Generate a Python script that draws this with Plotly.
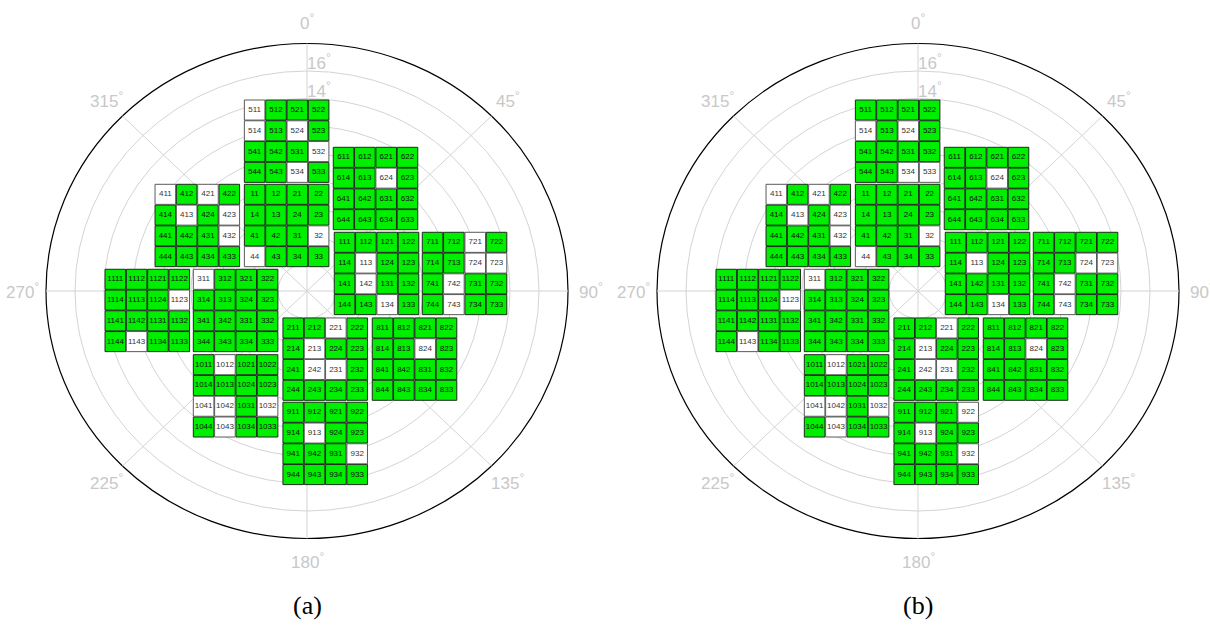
import math
import plotly.graph_objects as go

# ---------------- data ----------------
# block label prefixes and top-left corner of each block (degrees, x right / y up)
block_ids = ["", "1", "2", "3", "4", "5", "6", "7", "8", "9", "10", "11"]
block_x = [-4.32, 1.88, -1.66, -7.84, -10.48, -4.32, 1.81, 7.95, 4.50, -1.66, -7.84, -13.93]
block_y = [7.76, 4.27, -1.96, 1.58, 7.76, 13.89, 10.45, 4.27, -1.96, -8.09, -4.63, 1.58]

# label suffix of each cell inside a block (rows top->bottom, cols left->right)
cell_suffix = [["11", "12", "21", "22"],
               ["14", "13", "24", "23"],
               ["41", "42", "31", "32"],
               ["44", "43", "34", "33"]]

# cells drawn white (all others green)
white_a = ["32", "44", "113", "142", "134", "221", "213", "242", "231", "311",
           "411", "421", "413", "423", "432", "511", "514", "524", "532", "534",
           "624", "721", "724", "723", "742", "743", "824", "913", "932",
           "1012", "1041", "1042", "1032", "1043", "1123", "1143"]
white_b = ["32", "44", "113", "134", "221", "213", "242", "231", "311",
           "411", "421", "413", "423", "432", "514", "524", "534", "533",
           "624", "724", "723", "742", "743", "824", "922", "913", "932",
           "1012", "1041", "1042", "1032", "1043", "1123", "1143"]

panel_names = ["(a)", "(b)"]
radial_ticks = [2, 4, 6, 8, 10, 12, 14, 16]
radial_labels = [14, 16]          # the other radial labels sit under the cells
angle_ticks = [0, 45, 90, 135, 180, 225, 270, 315]
r_max = 18

# ---------------- layout constants ----------------
W, H = 1210, 626
SX, SY = 14.5, 13.75          # px per degree
CY = 291
CXS = [307, 918]
PITCH_X, PITCH_Y = 1.47, 1.51
GAP = 0.05
GREEN = "#00ee00"
TICK_GRAY = "#c8c8c8"

fig = go.Figure()
shapes = []
annotations = []

for p, (white, name) in enumerate(zip([white_a, white_b], panel_names)):
    xa = "x" if p == 0 else "x2"
    ya = "y" if p == 0 else "y2"

    # grid circles
    for r in radial_ticks:
        shapes.append(dict(type="circle", xref=xa, yref=ya, x0=-r, x1=r, y0=-r, y1=r,
                           line=dict(color="#d4d4d4", width=1), layer="below"))
    shapes.append(dict(type="circle", xref=xa, yref=ya, x0=-r_max, x1=r_max, y0=-r_max, y1=r_max,
                       line=dict(color="#000000", width=1.2), layer="below"))
    # spokes
    for a in angle_ticks:
        t = math.radians(a)
        shapes.append(dict(type="line", xref=xa, yref=ya, x0=0, y0=0,
                           x1=r_max * math.sin(t), y1=r_max * math.cos(t),
                           line=dict(color="#d4d4d4", width=1), layer="below"))

    # radial tick labels
    fig.add_trace(go.Scatter(
        x=[0.0] * len(radial_labels), y=[r + 0.42 for r in radial_labels],
        text=[f"{r}<sup>°</sup>" for r in radial_labels], mode="text",
        textposition="middle right",
        textfont=dict(family="Liberation Sans, Arial", size=17, color=TICK_GRAY),
        xaxis=xa, yaxis=ya, showlegend=False, hoverinfo="skip", cliponaxis=False))

    # cells
    gx, gy, wx, wy = [], [], [], []
    tx, ty, tt, tc = [], [], [], []
    for bid, bx, by in zip(block_ids, block_x, block_y):
        for row in range(4):
            for col in range(4):
                lab = bid + cell_suffix[row][col]
                x0 = bx + col * PITCH_X
                x1 = x0 + PITCH_X - GAP
                y0 = by - row * PITCH_Y
                y1 = y0 - PITCH_Y + GAP
                poly_x = [x0, x1, x1, x0, x0, None]
                poly_y = [y0, y0, y1, y1, y0, None]
                if lab in white:
                    wx += poly_x; wy += poly_y
                    tc.append("#333333")
                else:
                    gx += poly_x; gy += poly_y
                    tc.append("#111111")
                tx.append((x0 + x1) / 2)
                ty.append((y0 + y1) / 2)
                tt.append(lab)

    fig.add_trace(go.Scatter(x=gx, y=gy, mode="lines", fill="toself", fillcolor=GREEN,
                             line=dict(color="#1e2a1e", width=1),
                             xaxis=xa, yaxis=ya, showlegend=False, hoverinfo="skip"))
    fig.add_trace(go.Scatter(x=wx, y=wy, mode="lines", fill="toself", fillcolor="#ffffff",
                             line=dict(color="#5a5a5a", width=1),
                             xaxis=xa, yaxis=ya, showlegend=False, hoverinfo="skip"))
    fig.add_trace(go.Scatter(x=tx, y=ty, text=tt, mode="text", textposition="middle center",
                             textfont=dict(family="Liberation Sans, Arial", size=8, color=tc),
                             xaxis=xa, yaxis=ya, showlegend=False, hoverinfo="skip",
                             cliponaxis=False))

    # angular labels
    for a in angle_ticks:
        t = math.radians(a)
        rl = 19.6
        annotations.append(dict(x=rl * math.sin(t), y=rl * math.cos(t), xref=xa, yref=ya,
                                text=f"{a}<sup>°</sup>", showarrow=False,
                                xanchor="center", yanchor="middle",
                                font=dict(family="Liberation Sans, Arial", size=17, color=TICK_GRAY)))
    # caption
    annotations.append(dict(x=0, y=-22.85, xref=xa, yref=ya, text=name, showarrow=False,
                            xanchor="center", yanchor="middle",
                            font=dict(family="Liberation Serif, Times New Roman", size=26, color="#000")))


def xr(cx, d0, d1):
    return [(d0 * W - cx) / SX, (d1 * W - cx) / SX]


yr = [-(H - CY) / SY, CY / SY]
ax_common = dict(visible=False, showgrid=False, zeroline=False, fixedrange=True)

fig.update_layout(
    width=W, height=H,
    margin=dict(l=0, r=0, t=0, b=0, pad=0),
    paper_bgcolor="white", plot_bgcolor="white",
    hovermode=False,
    xaxis=dict(domain=[0, 0.5], range=xr(CXS[0], 0, 0.5), anchor="y", **ax_common),
    yaxis=dict(domain=[0, 1], range=yr, anchor="x", **ax_common),
    xaxis2=dict(domain=[0.5, 1], range=xr(CXS[1], 0.5, 1), anchor="y2", **ax_common),
    yaxis2=dict(domain=[0, 1], range=yr, anchor="x2", **ax_common),
    shapes=shapes, annotations=annotations,
)

fig.write_html("out.html", config={"displayModeBar": False},
               post_script="document.body.style.margin='0px';document.body.style.overflow='hidden';")
